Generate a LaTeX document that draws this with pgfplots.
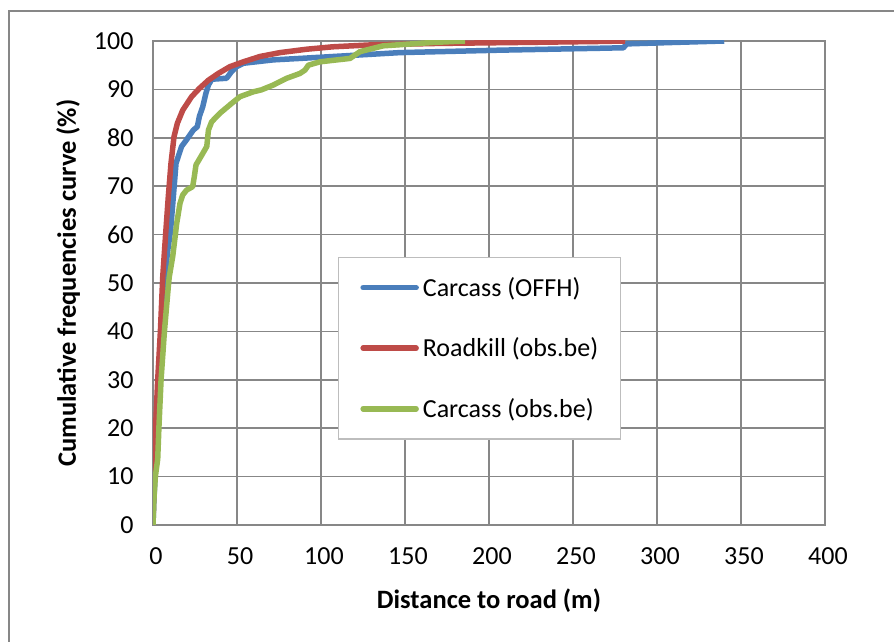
\documentclass[border=0pt]{standalone}
\usepackage{fontspec}
\setmainfont{Carlito}
\usepackage{pgfplots}
\pgfplotsset{compat=1.18}
\definecolor{cblue}{HTML}{4A7EBB}
\definecolor{cred}{HTML}{BE4B48}
\definecolor{cgreen}{HTML}{98B954}
\definecolor{cgrid}{HTML}{878787}
\definecolor{clegend}{HTML}{BDBDBD}
\begin{document}
\begin{tikzpicture}
\useasboundingbox (0pt,0pt) rectangle (894pt,642pt);
\draw[cgrid, line width=2pt] (9pt,-5pt) -- (9pt,631pt) -- (900pt,631pt);
\begin{axis}[
  at={(153pt,117pt)}, anchor=south west,
  scale only axis, width=672pt, height=484pt,
  xmin=0, xmax=400, ymin=0, ymax=100,
  xtick={0,50,...,400}, ytick={0,10,...,100},
  major tick length=0pt,
  grid=major,
  major grid style={cgrid, line width=1.5pt},
  axis line style={cgrid, line width=1.5pt},
  /pgf/number format/assume math mode=true,
  tick label style={font=\fontsize{26}{31}\selectfont},
  xticklabel style={yshift=-18.7pt, xshift=3pt},
  yticklabel style={xshift=-16pt},
  xlabel={\textbf{Distance to road (m)}},
  ylabel={\textbf{Cumulative frequencies curve (\%)}},
  label style={font=\fontsize{26.5}{31}\selectfont},
  xlabel style={at={([yshift=-83.5pt]axis description cs:0.5,0)}, anchor=base},
  ylabel style={at={([xshift=-77pt]axis description cs:0,0.5)}, anchor=base},
  legend style={at={(axis description cs:0.275,0.554)}, anchor=north west,
    draw=clegend, line width=1.2pt, fill=white,
    font=\fontsize{26}{31}\selectfont,
    nodes={inner sep=0pt, line width=1.2pt},
    inner xsep=22pt, inner ysep=20pt, row sep=40pt},
  legend cell align=left,
  legend image code/.code={\draw[#1, line cap=round, line width=5.5pt] (0pt,0pt) -- (53pt,0pt);},
  every axis plot/.append style={line width=5.5pt, line join=round},
]
\addplot[cblue] coordinates {
(0,0) (0.5,5) (1.2,10) (2.5,20) (3.5,30) (5,40) (7,50) (8.5,56) (10.5,61)
(12.1,67.8) (13.7,74.7) (15,76.1) (17,78.2) (20,79.6) (24,81.6) (26.4,82.3)
(27.6,84.4) (29.6,86.4) (31.5,89.2) (33,90.9) (35,92.1) (43.8,92.3) (46.8,93.7)
(49.8,94.7) (53.8,95.4) (71.6,96.1) (87.5,96.4) (147,97.6) (206,98.1) (266,98.5)
(280,98.6) (282,99.4) (310,99.7) (340,100)
};
\addlegendentry{\hspace{4pt}Carcass (OFFH)}
\addplot[cred] coordinates {
(0,0) (0.3,5) (0.5,10.7) (1.5,20) (2.8,30) (4.4,40) (5.8,51.3) (7.7,61) (9.1,67.8)
(10.7,74.7) (12.5,80.2) (14.5,83) (17.7,85.7) (23,88.5) (27.6,90.2) (33,91.9)
(38.9,93.3) (45.8,94.7) (53.8,95.7) (63.7,96.8) (75.6,97.6) (91.5,98.3) (107,98.8)
(130,99.2) (170,99.5) (220,99.7) (266,99.9) (281,100)
};
\addlegendentry{\hspace{4pt}Roadkill (obs.be)}
\addplot[cgreen] coordinates {
(0,0) (0.5,5) (1.4,10) (2.8,13.6) (3.5,20) (4.8,30) (6.8,40) (9.3,50) (9.7,51.3)
(11.7,55.4) (12.7,58.2) (14.1,62.3) (16.1,66.5) (17.7,68.2) (20,69.2) (23.6,69.9)
(24.6,72) (25.6,74.4) (29,76.4) (32,78.2) (33,81.6) (34.9,83.3) (39.9,85.1)
(46.8,87.1) (51.8,88.5) (59.7,89.5) (64.5,89.9) (71.6,90.9) (79.6,92.3) (87.5,93.3)
(90.5,94) (92.5,95) (99.4,95.7) (117.3,96.4) (123.2,97.8) (137,99) (166.8,99.7)
(185.7,100)
};
\addlegendentry{\hspace{4pt}Carcass (obs.be)}
\end{axis}
\end{tikzpicture}
\end{document}
